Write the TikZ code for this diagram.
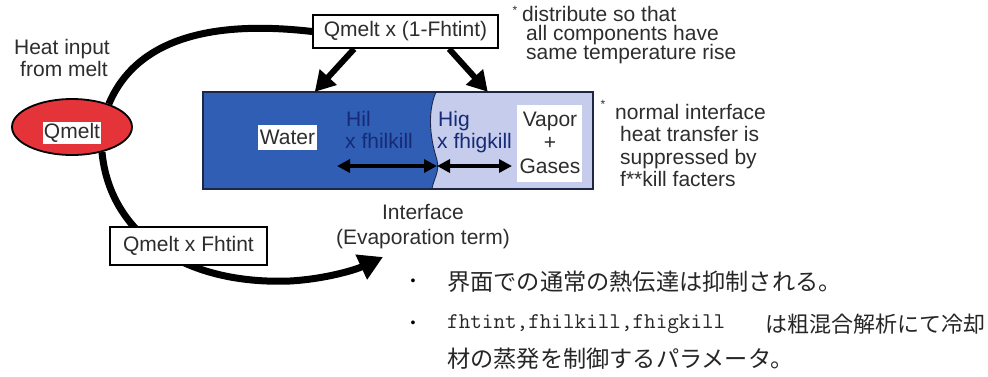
\documentclass[tikz,border=0pt]{standalone}
\usepackage{fontspec}
\setmainfont{Liberation Sans}
\newfontfamily\jpfont{Noto Sans CJK JP}
\usetikzlibrary{shapes.geometric,arrows.meta}
\definecolor{deepblue}{RGB}{48,94,180}
\definecolor{paleblue}{RGB}{198,204,236}
\definecolor{meltred}{RGB}{228,52,58}
\definecolor{txt}{RGB}{45,45,45}
\definecolor{bluetxt}{RGB}{22,42,118}
\definecolor{rimblue}{RGB}{30,38,70}
\begin{document}
\begin{tikzpicture}[x=1pt,y=-1pt,
  lbl/.style={font=\fontsize{21}{22}\selectfont, text=txt, inner sep=0pt, text height=15pt, text depth=4pt},
  framebox/.style={draw=black, line width=1.8pt, fill=white, inner sep=0pt, font=\fontsize{21}{22}\selectfont, text=txt},
  whitelbl/.style={fill=white, inner sep=1pt, font=\fontsize{21}{22}\selectfont, text=txt},
  jp/.style={font=\jpfont\fontsize{23.2}{23}\selectfont, text=black!85, inner sep=0pt, anchor=west},
  flowline/.style={line width=7pt, draw=black},
  feedarrow/.style={line width=6pt, -{Triangle[length=20pt,width=22pt]}},
  htarrow/.style={line width=3.5pt, {Triangle[length=13pt,width=13pt]}-{Triangle[length=13pt,width=13pt]}},
  star/.style={font=\fontsize{12}{12}\selectfont, text=txt, inner sep=0pt}
]
\useasboundingbox (0,0) rectangle (988,376);

% melt source
\node[lbl] (heat1) at (62,49) {Heat input};
\node[lbl] (heat2) at (64,71) {from melt};
\node[ellipse, draw=black, line width=1.8pt, fill=meltred, minimum width=120pt, minimum height=56pt, inner sep=0pt] (qm) at (72,127) {};
\node[whitelbl] (qmlbl) at (72,133) {Qmelt};

% boxes
\node[framebox, minimum width=185pt, minimum height=33pt] (top) at (405.5,31.5) {Qmelt x (1-Fhtint)};

% curves
\draw[flowline] (qm.32) .. controls (140,30) and (230,22) .. (top.west);
\coordinate (ev) at (383,257);
\draw[flowline, -{Triangle[length=24pt,width=26pt]}] (qm.-40) .. controls (110,235) and (185,285) .. (290,281) .. controls (325,279) and (355,270) .. (ev);

\node[framebox, minimum width=157pt, minimum height=38pt] (bot) at (188.5,246) {Qmelt x Fhtint};

% water / gas region
\node[draw=none, minimum width=390pt, minimum height=97pt, inner sep=0pt] (pool) at (398,140.5) {};
\fill[deepblue] (pool.north west) -- (436,92) .. controls (428,110) and (429,135) .. (437,160) .. controls (440,172) and (433,180) .. (432,189) -- (pool.south west) -- cycle;
\fill[paleblue] (pool.north east) -- (436,92) .. controls (428,110) and (429,135) .. (437,160) .. controls (440,172) and (433,180) .. (432,189) -- (pool.south east) -- cycle;
\draw[rimblue, line width=0.9pt] (436,92) .. controls (428,110) and (429,135) .. (437,160) .. controls (440,172) and (433,180) .. (432,189);
\draw[rimblue, line width=2pt] (pool.north west) rectangle (pool.south east);

\draw[feedarrow] ([xshift=42pt]top.south west) -- ([xshift=112pt]pool.north west);
\draw[feedarrow] ([xshift=137pt]top.south west) -- ([xshift=285pt]pool.north west);

\node[whitelbl, minimum width=59pt, minimum height=25pt, inner sep=0pt] (water) at (287.5,137.5) {Water};
\node[lbl, text=bluetxt, anchor=west] (hil1) at (346,121) {Hil};
\node[lbl, text=bluetxt, anchor=west] (hil2) at (345,143) {x fhilkill};
\node[lbl, text=bluetxt, anchor=west] (hig1) at (438,121) {Hig};
\node[lbl, text=bluetxt, anchor=west] (hig2) at (437,143) {x fhigkill};
\node[fill=white, minimum width=65pt, minimum height=77pt, inner sep=0pt] (gasbox) at (549.5,143.5) {};
\node[lbl] (vap1) at (550,121) {Vapor};
\node[lbl] (vap2) at (550,144) {+};
\node[lbl] (vap3) at (550,168) {Gases};

\coordinate (la) at (337,166);
\coordinate (ifc) at (437,166);
\coordinate (ra) at (512,166);
\draw[htarrow] (la) -- (ifc);
\draw[htarrow] (ifc) -- (ra);

\node[lbl] (if1) at (423,214) {Interface};
\node[lbl] (if2) at (423,239) {(Evaporation term)};

% notes
\node[star] (st1) at (515,10) {*};
\node[lbl, anchor=west] (n11) at (522,16) {distribute so that};
\node[lbl, anchor=west] (n12) at (526,35) {all components have};
\node[lbl, anchor=west] (n13) at (526,54) {same temperature rise};
\node[star] (st2) at (603,104) {*};
\node[lbl, anchor=west] (n21) at (615,114) {normal interface};
\node[lbl, anchor=west] (n22) at (620,136) {heat transfer is};
\node[lbl, anchor=west] (n23) at (620,159) {suppressed by};
\node[lbl, anchor=west] (n24) at (620,181) {f**kill facters};

% Japanese bullets
\node[font=\fontsize{14}{14}\selectfont, inner sep=0pt] (b1) at (413,282) {•};
\node[font=\fontsize{14}{14}\selectfont, inner sep=0pt] (b2) at (413,324) {•};
\node[jp] (j1) at (447,282) {界面での通常の熱伝達は抑制される。};
\node[font=\ttfamily\fontsize{22.5}{23}\selectfont, text=black!85, inner sep=0pt, anchor=west] (j2a) at (447,324) {fhtint,fhilkill,fhigkill};
\node[jp, font=\jpfont\fontsize{22}{22}\selectfont] (j2b) at (765,324) {は粗混合解析にて冷却};
\node[jp] (j3) at (447,359) {材の蒸発を制御するパラメータ。};
\end{tikzpicture}
\end{document}
